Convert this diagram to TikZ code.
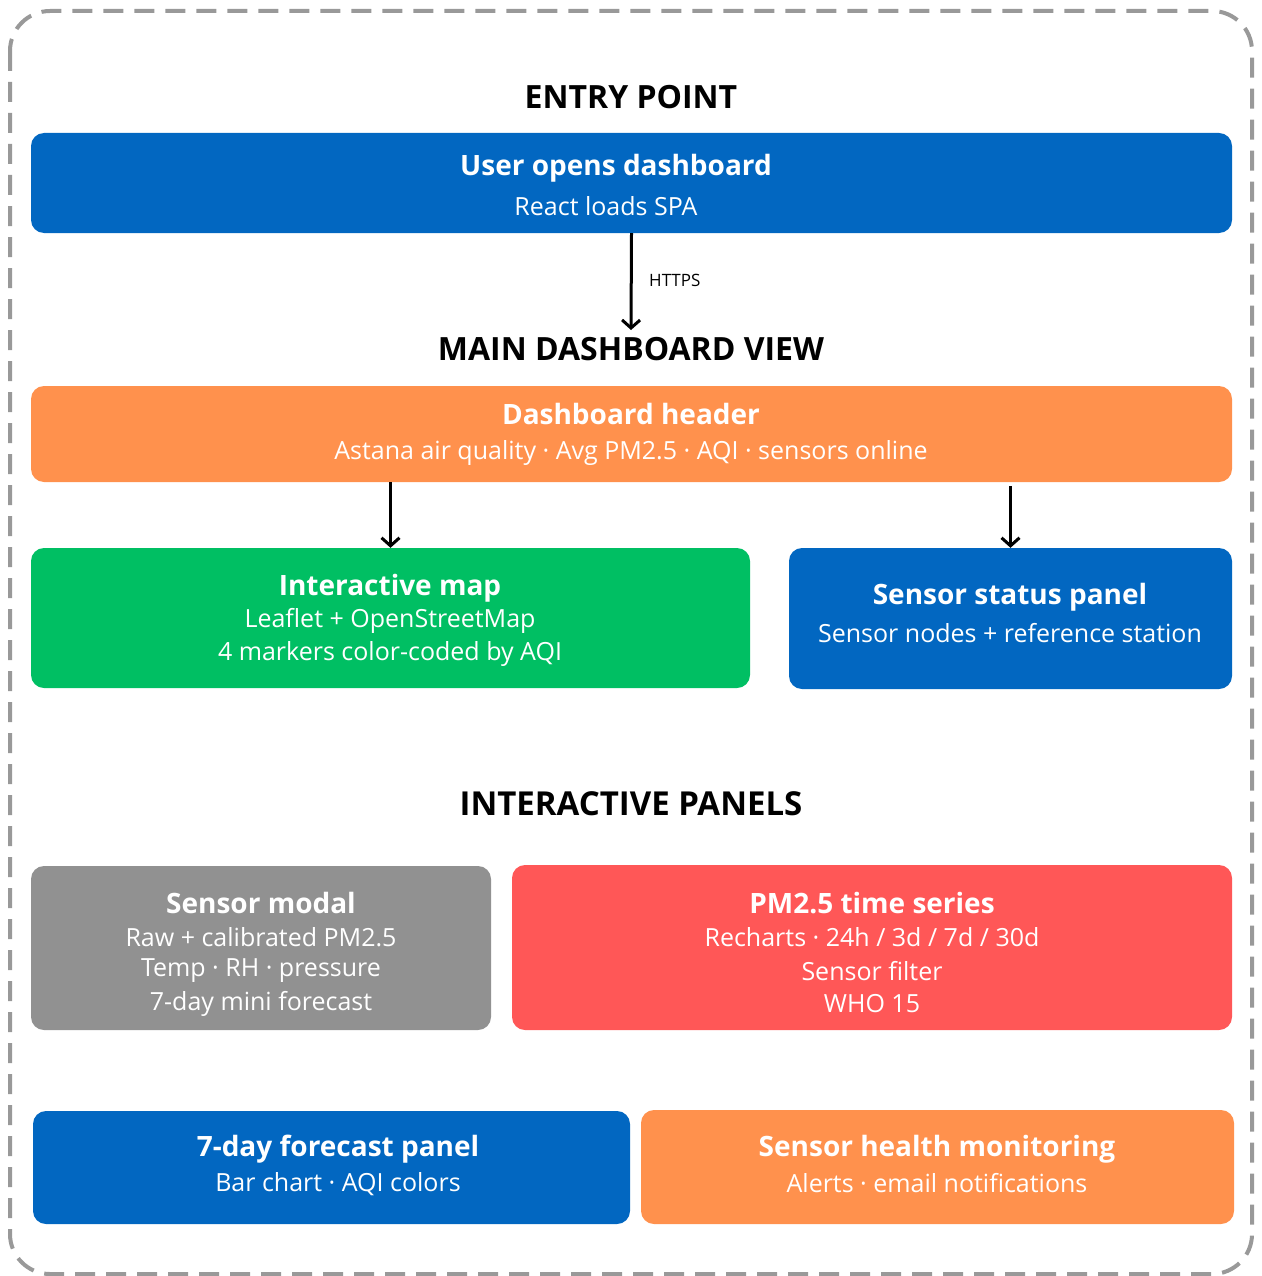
\documentclass[tikz,border=0pt]{standalone}
\usepackage{fontspec}
\setmainfont{Open Sans}
\usetikzlibrary{arrows.meta}
\definecolor{cblue}{HTML}{0267C1}
\definecolor{corange}{HTML}{FF914D}
\definecolor{cgreen}{HTML}{00BF63}
\definecolor{cred}{HTML}{FF5757}
\definecolor{cgray}{HTML}{919191}
\definecolor{cframe}{HTML}{999999}
\tikzset{
  box/.style={rounded corners=13pt, draw=none, inner sep=0pt},
  ttl/.style={text=white, font=\fontsize{28}{30}\selectfont\bfseries, inner sep=0pt, yshift=-2pt},
  sub/.style={text=white, font=\fontsize{25}{28}\selectfont, inner sep=0pt},
  sec/.style={text=black, font=\fontsize{32}{34}\selectfont\bfseries, inner sep=0pt},
  arr/.style={line width=3pt, -{Straight Barb[length=8pt,width=18pt,line width=3pt]}},
}
\begin{document}
\begin{tikzpicture}[x=1pt,y=-1pt]
\useasboundingbox (0,0) rectangle (1261,1276);
\draw[cframe, line width=4pt, dash pattern=on 20pt off 11pt, rounded corners=40pt] (10,11) rectangle (1252,1274);

% Entry
\node[sec] (entrylbl) at (631,97) {ENTRY POINT};
\node[box, fill=cblue, minimum width=1201, minimum height=100] (entry) at (631.5,183) {};
\node[ttl] (entryt) at (616,166) {User opens dashboard};
\node[sub] (entrys) at (606,206) {React loads SPA};

\coordinate (httpsend) at (631,330);
\draw[arr] (entry.south) -- (httpsend);
\node[text=black, font=\fontsize{17}{19}\selectfont, inner sep=0pt, anchor=west] (https) at (649,280) {HTTPS};

% Main dashboard
\node[sec] (mainlbl) at (631,349) {MAIN DASHBOARD VIEW};
\node[box, fill=corange, minimum width=1201, minimum height=96] (header) at (631.5,434) {};
\node[ttl] (headert) at (631,412) {Dashboard header};
\node[sub] (headers) at (631,453) {Astana air quality · Avg PM2.5 · AQI · sensors online};

\node[box, fill=cgreen, minimum width=719, minimum height=140] (map) at (390.5,618) {};
\node[ttl] (mapt) at (390,586) {Interactive map};
\node[sub] (maps1) at (390,621) {Leaflet + OpenStreetMap};
\node[sub] (maps2) at (390,654) {4 markers color-coded by AQI};

\node[box, fill=cblue, minimum width=443, minimum height=141] (status) at (1010.5,618.5) {};
\node[ttl] (statust) at (1010,595) {Sensor status panel};
\node[sub] (statuss) at (1010,633) {Sensor nodes + reference station};

\draw[arr] (header.south -| map.north) -- (map.north);
\draw[arr, shorten <=4pt] (header.south -| status.north) -- (status.north);

% Interactive panels
\node[sec, font=\fontsize{33}{35}\selectfont\bfseries] (panlbl) at (631,804) {INTERACTIVE PANELS};

\node[box, fill=cgray, minimum width=460, minimum height=164] (modal) at (261,948) {};
\node[ttl] (modalt) at (261,901) {Sensor modal};
\node[sub] (modals1) at (261,937) {Raw + calibrated PM2.5};
\node[sub] (modals2) at (261,971) {Temp · RH · pressure};
\node[sub] (modals3) at (261,1004) {7-day mini forecast};

\node[box, fill=cred, minimum width=720, minimum height=165] (ts) at (872,947.5) {};
\node[ttl] (tst) at (872,901) {PM2.5 time series};
\node[sub] (tss1) at (872,937) {Recharts · 24h / 3d / 7d / 30d};
\node[sub] (tss2) at (872,971) {Sensor filter};
\node[sub] (tss3) at (872,1004) {WHO 15};

\node[box, fill=cblue, minimum width=597, minimum height=113] (fc) at (331.5,1167.5) {};
\node[ttl] (fct) at (338,1147) {7-day forecast panel};
\node[sub] (fcs) at (338,1184) {Bar chart · AQI colors};

\node[box, fill=corange, minimum width=593, minimum height=114] (health) at (937.5,1167) {};
\node[ttl] (healtht) at (937,1147) {Sensor health monitoring};
\node[sub] (healths) at (937,1183) {Alerts · email notifications};
\end{tikzpicture}
\end{document}
